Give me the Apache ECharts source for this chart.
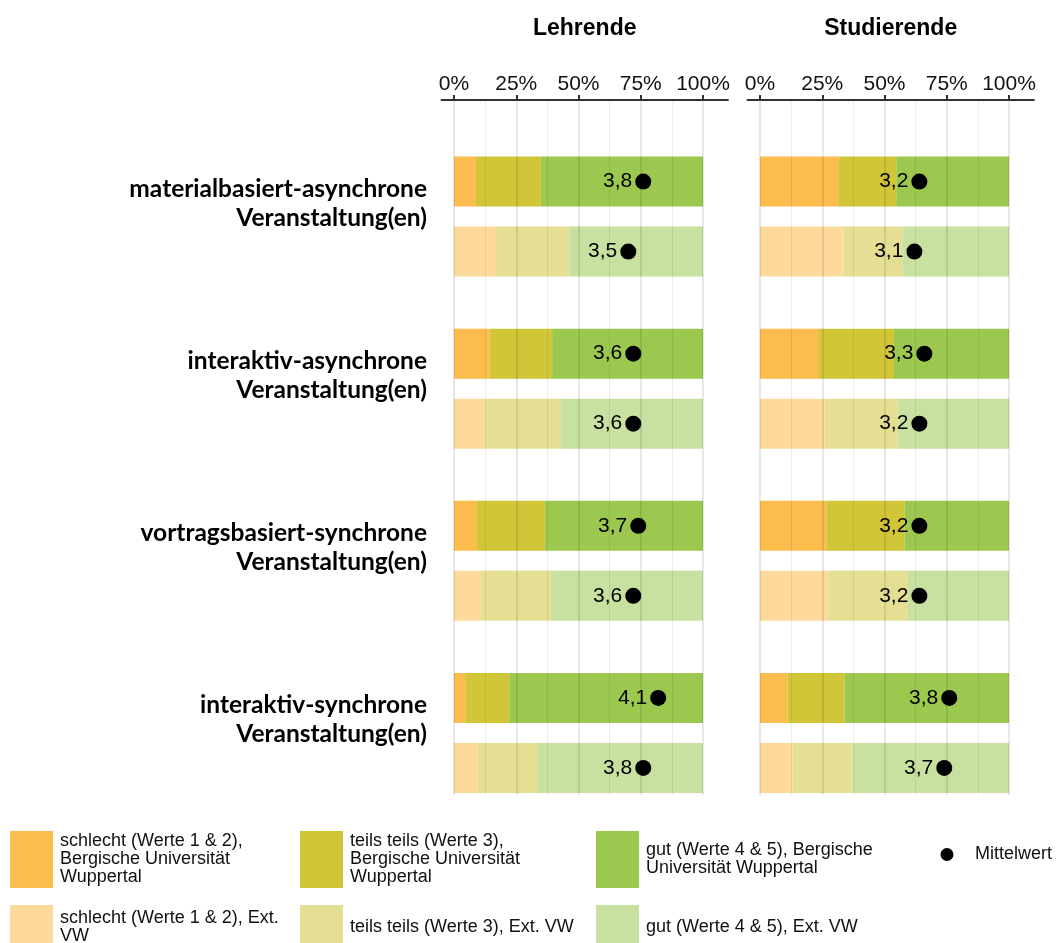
<!DOCTYPE html>
<html>
<head>
<meta charset="utf-8">
<script src="https://cdn.jsdelivr.net/npm/echarts@6/dist/echarts.min.js"></script>
<style>
html,body{margin:0;padding:0;background:#fff;}
#chart{width:1059px;height:943px;}
</style>
</head>
<body>
<div id="chart"></div>
<script>
// ---------------- DATA ----------------
const categories = [
  'materialbasiert-asynchrone\nVeranstaltung(en)',
  'interaktiv-asynchrone\nVeranstaltung(en)',
  'vortragsbasiert-synchrone\nVeranstaltung(en)',
  'interaktiv-synchrone\nVeranstaltung(en)'
];
const panelTitles = ['Lehrende', 'Studierende'];
const tickValues = [0, 25, 50, 75, 100];

const seriesNames = {
  badBUW: 'schlecht (Werte 1 & 2), Bergische Universität Wuppertal',
  midBUW: 'teils teils (Werte 3), Bergische Universität Wuppertal',
  goodBUW: 'gut (Werte 4 & 5), Bergische Universität Wuppertal',
  badExt: 'schlecht (Werte 1 & 2), Ext. VW',
  midExt: 'teils teils (Werte 3), Ext. VW',
  goodExt: 'gut (Werte 4 & 5), Ext. VW',
  mean: 'Mittelwert'
};

// Lehrende
const lehrBadBUW  = [8.8, 14.2, 9.2, 4.5];
const lehrMidBUW  = [26.1, 25.2, 27.3, 17.7];
const lehrGoodBUW = [65.1, 60.6, 63.5, 77.8];
const lehrMeanBUW = [3.8, 3.6, 3.7, 4.1];
const lehrBadExt  = [16.9, 12.2, 10.8, 9.4];
const lehrMidExt  = [29.4, 30.8, 28.6, 24.3];
const lehrGoodExt = [53.7, 57.0, 60.6, 66.3];
const lehrMeanExt = [3.5, 3.6, 3.6, 3.8];

// Studierende
const studBadBUW  = [31.7, 23.7, 26.6, 11.0];
const studMidBUW  = [23.0, 30.1, 31.4, 22.9];
const studGoodBUW = [45.3, 46.2, 42.0, 66.1];
const studMeanBUW = [3.2, 3.3, 3.2, 3.8];
const studBadExt  = [33.5, 26.0, 27.4, 13.1];
const studMidExt  = [23.7, 29.5, 32.0, 24.0];
const studGoodExt = [42.8, 44.5, 40.6, 62.9];
const studMeanExt = [3.1, 3.2, 3.2, 3.7];

const panelData = [
  { buw: [lehrBadBUW, lehrMidBUW, lehrGoodBUW], ext: [lehrBadExt, lehrMidExt, lehrGoodExt], meanBUW: lehrMeanBUW, meanExt: lehrMeanExt },
  { buw: [studBadBUW, studMidBUW, studGoodBUW], ext: [studBadExt, studMidExt, studGoodExt], meanBUW: studMeanBUW, meanExt: studMeanExt }
];

// ---------------- STYLE ----------------
const colorsBUW = ['#fcbc4e', '#d1c638', '#9dc84f'];
const colorsExt = ['#fdd99b', '#e4df92', '#c8e0a0'];
const namesBUW = [seriesNames.badBUW, seriesNames.midBUW, seriesNames.goodBUW];
const namesExt = [seriesNames.badExt, seriesNames.midExt, seriesNames.goodExt];

const FONT = '"Liberation Sans", Arial, sans-serif';
const plotLeft = [454, 760];
const plotWidth = 249;
const axisMin = -5, axisMax = 110;
const barW = 50, barGapPx = 20;
const dotShift = (barW + barGapPx) / 2;
const barTop = 130.5, barHeight = 688.5;
const labelShift = 13;

const grids = [], xAxes = [], yAxes = [], series = [], titles = [];

panelTitles.forEach((title, p) => {
  const pxPerPct = plotWidth / 100;
  const axisLeft = plotLeft[p] + axisMin * pxPerPct;
  const axisWidth = (axisMax - axisMin) * pxPerPct;
  const g0 = grids.length;

  grids.push({ left: axisLeft, width: axisWidth, top: 100, height: 695 });        // top axis
  grids.push({ left: plotLeft[p], width: plotWidth, top: 101, height: 694 });     // gridlines
  grids.push({ left: plotLeft[p], width: plotWidth, top: barTop, height: barHeight }); // bars

  const x0 = xAxes.length;
  xAxes.push({
    gridIndex: g0, type: 'value', position: 'top', min: axisMin, max: axisMax,
    axisLine: { show: true, onZero: false, lineStyle: { color: '#333', width: 2 } },
    axisTick: { show: true, length: 5, lineStyle: { color: '#333', width: 2 }, customValues: tickValues },
    axisLabel: { show: true, customValues: tickValues, formatter: '{value}%', fontFamily: FONT, fontSize: 21, color: '#111', margin: 5 },
    splitLine: { show: false }
  });
  xAxes.push({
    gridIndex: g0 + 1, type: 'value', min: 0, max: 100, interval: 25, z: 5,
    axisLine: { show: false }, axisTick: { show: false }, axisLabel: { show: false },
    splitLine: { show: true, lineStyle: { color: 'rgba(0,0,0,0.09)', width: 2 } },
    minorTick: { show: false, splitNumber: 2 },
    minorSplitLine: { show: true, lineStyle: { color: 'rgba(0,0,0,0.07)', width: 1 } }
  });
  xAxes.push({ gridIndex: g0 + 2, type: 'value', min: 0, max: 100, show: false });
  xAxes.push({ gridIndex: g0 + 2, type: 'value', min: 0, max: 5, show: false });

  const y0 = yAxes.length;
  yAxes.push({ gridIndex: g0, type: 'value', show: false });
  yAxes.push({ gridIndex: g0 + 1, type: 'value', show: false });
  yAxes.push({
    gridIndex: g0 + 2, type: 'category', inverse: true, data: categories,
    axisLine: { show: false }, axisTick: { show: false }, splitLine: { show: false },
    axisLabel: { show: false }
  });

  if (p === 0) {
    // category labels sit slightly above the bar pair centre
    const gl = grids.length;
    grids.push({ left: plotLeft[p], width: plotWidth, top: barTop - labelShift, height: barHeight });
    xAxes.push({ gridIndex: gl, type: 'value', min: 0, max: 100, show: false });
    yAxes.push({
      gridIndex: gl, type: 'category', inverse: true, data: categories,
      axisLine: { show: false }, axisTick: { show: false }, splitLine: { show: false },
      axisLabel: {
        show: true, fontFamily: 'Lato, "Noto Sans", sans-serif', fontWeight: 'bold',
        fontSize: 24.5, lineHeight: 29, color: '#000', align: 'right', margin: 27
      }
    });
  }

  titles.push({
    text: title, left: axisLeft + axisWidth / 2, top: 17, textAlign: 'center', padding: 0,
    textStyle: { fontFamily: FONT, fontWeight: 'bold', fontSize: 23, color: '#000' }
  });

  const d = panelData[p];
  d.buw.forEach((vals, k) => {
    series.push({
      type: 'bar', name: namesBUW[k], stack: 'buw' + p, data: vals,
      xAxisIndex: x0 + 2, yAxisIndex: y0 + 2, barWidth: barW, barGap: (barGapPx / barW * 100) + '%',
      itemStyle: { color: colorsBUW[k] }, emphasis: { disabled: true }
    });
  });
  d.ext.forEach((vals, k) => {
    series.push({
      type: 'bar', name: namesExt[k], stack: 'ext' + p, data: vals,
      xAxisIndex: x0 + 2, yAxisIndex: y0 + 2, barWidth: barW, barGap: (barGapPx / barW * 100) + '%',
      itemStyle: { color: colorsExt[k] }, emphasis: { disabled: true }
    });
  });
  [[d.meanBUW, -dotShift], [d.meanExt, dotShift]].forEach(([means, off]) => {
    series.push({
      type: 'scatter', name: seriesNames.mean, xAxisIndex: x0 + 3, yAxisIndex: y0 + 2,
      data: means.map((m, i) => [m, categories[i]]),
      symbol: 'circle', symbolSize: 16, symbolOffset: [0, off], z: 10,
      itemStyle: { color: '#000', opacity: 1 },
      label: {
        show: true, position: 'left', distance: 3, fontFamily: FONT, fontSize: 21, color: '#000',
        formatter: (prm) => prm.value[0].toFixed(1).replace('.', ',')
      },
      emphasis: { disabled: true }
    });
  });
});

const legendText = { fontFamily: FONT, fontSize: 18, lineHeight: 18, color: '#111', width: 235, overflow: 'break', padding: [0, 0, 0, 2] };
function legendItem(name, left, top, h) {
  return { left: left, top: top, orient: 'vertical', itemWidth: 43, itemHeight: h, padding: 0,
    icon: 'rect', textStyle: legendText, selectedMode: false, data: [name] };
}

const option = {
  animation: false,
  backgroundColor: '#fff',
  title: titles,
  grid: grids,
  xAxis: xAxes,
  yAxis: yAxes,
  legend: [
    legendItem(seriesNames.badBUW, 10, 831, 57),
    legendItem(seriesNames.badExt, 10, 905, 45),
    legendItem(seriesNames.midBUW, 300, 831, 57),
    legendItem(seriesNames.midExt, 300, 905, 45),
    legendItem(seriesNames.goodBUW, 596, 831, 57),
    legendItem(seriesNames.goodExt, 596, 905, 45),
    { left: 940.5, top: 845.5, orient: 'vertical', itemWidth: 46, itemHeight: 13, padding: 0, icon: 'circle',
      textStyle: { fontFamily: FONT, fontSize: 18, color: '#111' }, selectedMode: false,
      data: [seriesNames.mean] }
  ],
  series: series
};

const chart = echarts.init(document.getElementById('chart'), null, { renderer: 'canvas' });
chart.setOption(option);
</script>
</body>
</html>
